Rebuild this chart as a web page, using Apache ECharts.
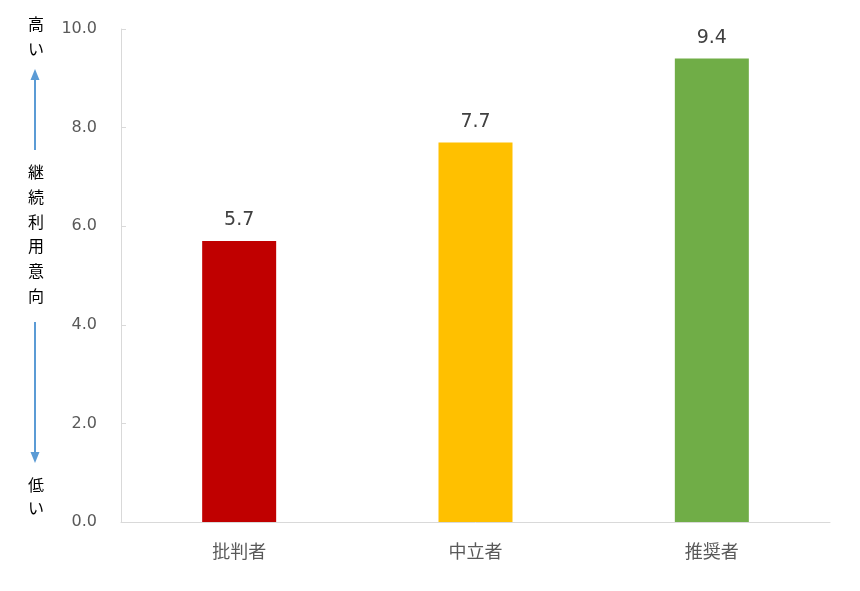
<!DOCTYPE html>
<html><head><meta charset="utf-8">
<script src="https://cdn.jsdelivr.net/npm/echarts@6/dist/echarts.min.js"></script>
<style>html,body{margin:0;padding:0;background:#fff}#c{width:860px;height:591px}</style>
</head><body><div id="c"></div>
<script>
const categories = ['批判者', '中立者', '推奨者'];
const values = [5.7, 7.7, 9.4];
const barColors = ['#C00000', '#FFC000', '#70AD47'];
const yTicks = { min: 0, max: 10, interval: 2 };
const sideTop = ['高', 'い'];
const sideMid = ['継', '続', '利', '用', '意', '向'];
const sideBottom = ['低', 'い'];

const chart = echarts.init(document.getElementById('c'), null, { renderer: 'canvas' });
const jp = '"Noto Sans CJK JP", "Noto Sans", sans-serif';
const num = '"DejaVu Sans", sans-serif';
const graphics = [];
function addText(chars, startY, step) {
  chars.forEach((ch, i) => {
    graphics.push({ type: 'text', x: 36, y: startY + i * step,
      style: { text: ch, fill: '#000', font: '16px ' + jp, textAlign: 'center', textVerticalAlign: 'middle' } });
  });
}
addText(sideTop, 24, 25);
addText(sideMid, 172, 24.8);
addText(sideBottom, 485, 23);
const arrowColor = '#5B9BD5';
graphics.push({ type: 'line', shape: { x1: 35, y1: 150, x2: 35, y2: 76 }, style: { stroke: arrowColor, lineWidth: 2 } });
graphics.push({ type: 'polygon', shape: { points: [[35, 69], [30.5, 80], [39.5, 80]] }, style: { fill: arrowColor } });
graphics.push({ type: 'line', shape: { x1: 35, y1: 322, x2: 35, y2: 455 }, style: { stroke: arrowColor, lineWidth: 2 } });
graphics.push({ type: 'polygon', shape: { points: [[35, 463], [30.5, 452], [39.5, 452]] }, style: { fill: arrowColor } });

chart.setOption({
  backgroundColor: '#fff',
  animation: false,
  grid: { left: 121, right: 30, top: 29, bottom: 69, containLabel: false },
  xAxis: {
    type: 'category', data: categories,
    axisLine: { lineStyle: { color: '#D9D9D9', width: 1 } },
    axisTick: { show: false },
    axisLabel: { color: '#595959', fontSize: 18, fontFamily: jp, margin: 20 }
  },
  yAxis: {
    type: 'value', min: yTicks.min, max: yTicks.max, interval: yTicks.interval,
    axisLine: { show: true, lineStyle: { color: '#D9D9D9', width: 1 } },
    axisTick: { show: true, inside: true, length: 5, lineStyle: { color: '#D9D9D9' } },
    splitLine: { show: false },
    axisLabel: { color: '#595959', fontSize: 16, fontFamily: num, margin: 24,
      formatter: v => v.toFixed(1) }
  },
  series: [{
    type: 'bar', barWidth: 74,
    data: values.map((v, i) => ({ value: v, itemStyle: { color: barColors[i] } })),
    label: { show: true, position: 'top', distance: 11, color: '#404040', fontSize: 19,
      fontFamily: num, formatter: p => p.value.toFixed(1) }
  }],
  graphic: graphics
});
</script></body></html>
